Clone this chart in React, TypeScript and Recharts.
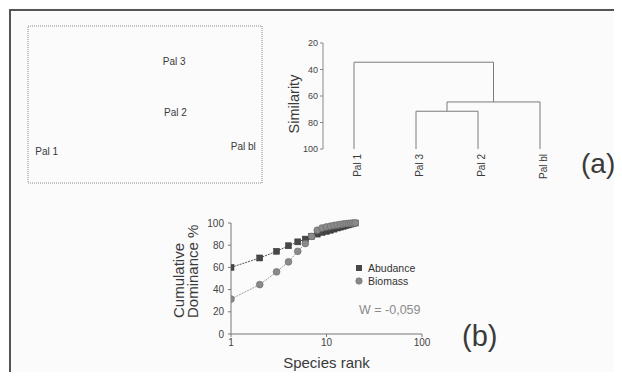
import React from "react";
import {
  ScatterChart,
  Scatter,
  LineChart,
  Line,
  XAxis,
  YAxis,
  ReferenceArea,
  Legend,
} from "recharts";

const FONT = '"Liberation Sans", Arial, Helvetica, sans-serif';
const INK = "#3a3a3a";

// (a) left: MDS ordination
const mdsSites = ["Pal 1", "Pal 3", "Pal 2", "Pal bl"];
const mdsX = [-0.84, 0.25, 0.26, 0.84];
const mdsY = [-0.6, 0.55, -0.1, -0.54];

// (a) right: dendrogram (nodes 0-3 are leaves, 4+ are the clusters made by each merge)
const leaves = ["Pal 1", "Pal 3", "Pal 2", "Pal bl"];
const merges: [number, number, number][] = [
  [1, 2, 71.5],
  [4, 3, 64.5],
  [0, 5, 34.5],
];
const simTicks = [20, 40, 60, 80, 100];

// (b) k-dominance curves
const ranks = [1, 2, 3, 4, 5, 6, 7, 8, 9, 10, 11, 12, 13, 14, 15, 16, 17, 18, 19, 20];
const abundance = [60, 68.5, 74.5, 79.5, 83, 85.5, 88, 90, 91.5, 92.5, 93.5, 94.5, 95.5, 96.3, 97, 97.7, 98.3, 99, 99.5, 100];
const biomass = [31.5, 44.5, 56, 65, 74.5, 81.5, 88, 93.5, 95.5, 96.5, 97.2, 97.8, 98.3, 98.7, 99.1, 99.4, 99.6, 99.8, 99.9, 100];
const rankTicks = [1, 10, 100];
const domTicks = [0, 20, 40, 60, 80, 100];

const mdsData = mdsSites.map((name, i) => ({ name, x: mdsX[i], y: mdsY[i] }));
const leafData = leaves.map((name, i) => ({ i, h: 100 }));
const domData = ranks.map((rank, i) => ({ rank, abundance: abundance[i], biomass: biomass[i] }));

// each merge becomes one bracket: down-left, across, down-right
function dendroBrackets() {
  const nodes = leaves.map((_, i) => ({ x: i, h: 100 }));
  return merges.map(([a, b, sim]) => {
    const na = nodes[a];
    const nb = nodes[b];
    nodes.push({ x: (na.x + nb.x) / 2, h: sim });
    return [
      { i: na.x, h: na.h },
      { i: na.x, h: sim },
      { i: nb.x, h: sim },
      { i: nb.x, h: nb.h },
    ];
  });
}

const SiteLabel = (props: any) => (
  <text x={props.cx} y={props.cy} textAnchor="middle" dominantBaseline="central" fontSize={10} fill={INK} fontFamily={FONT}>
    {props.payload.name}
  </text>
);

const LeafTick = (props: any) => (
  <text
    x={props.x + 3}
    y={props.y - 3}
    transform={`rotate(-90, ${props.x + 3}, ${props.y - 3})`}
    textAnchor="end"
    dominantBaseline="central"
    fontSize={10}
    fill={INK}
    fontFamily={FONT}
  >
    {leaves[props.payload.value]}
  </text>
);

const SquareDot = (props: any) => (
  <rect key={`a${props.index}`} x={props.cx - 3} y={props.cy - 3} width={6} height={6} fill="#474747" stroke="#333" strokeWidth={0.5} />
);

const CircleDot = (props: any) => (
  <circle key={`b${props.index}`} cx={props.cx} cy={props.cy} r={3.4} fill="#8a8a8a" stroke="#666" strokeWidth={0.6} />
);

const DomLegend = (props: any) => (
  <div style={{ fontFamily: FONT, fontSize: 10.5, color: "#333", lineHeight: "13px" }}>
    {(props.payload || []).map((p: any) => (
      <div key={p.value} style={{ display: "flex", alignItems: "center" }}>
        <svg width={9} height={9} style={{ marginRight: 4 }}>
          {p.value === "Abudance" ? (
            <rect x={1} y={1} width={6} height={6} fill="#474747" />
          ) : (
            <circle cx={4} cy={4} r={3.2} fill="#8a8a8a" stroke="#666" strokeWidth={0.6} />
          )}
        </svg>
        {p.value}
      </div>
    ))}
  </div>
);

const tickStyle = { fontSize: 10, fill: "#444", fontFamily: FONT };

export default function App() {
  const brackets = dendroBrackets();
  return (
    <div
      style={{
        position: "relative",
        width: 622,
        height: 380,
        margin: -8,
        background: "#fbfbfb",
        overflow: "hidden",
        fontFamily: FONT,
      }}
    >
      <div
        style={{
          position: "absolute",
          left: 9,
          top: 9,
          width: 640,
          height: 400,
          borderTop: "2px solid #555",
          borderLeft: "2px solid #555",
        }}
      />

      {/* (a) MDS */}
      <div style={{ position: "absolute", left: 27, top: 25 }}>
        <ScatterChart width={236} height={159} margin={{ top: 1, right: 1, bottom: 1, left: 1 }}>
          <XAxis type="number" dataKey="x" domain={[-1, 1]} hide />
          <YAxis type="number" dataKey="y" domain={[-1, 1]} hide />
          <ReferenceArea x1={-1} x2={1} y1={-1} y2={1} fill="none" stroke="#8a8a8a" strokeDasharray="1 1" />
          <Scatter data={mdsData} shape={SiteLabel} isAnimationActive={false} />
        </ScatterChart>
      </div>

      {/* (a) dendrogram */}
      <div style={{ position: "absolute", left: 260, top: 33 }}>
        <LineChart width={311} height={156} data={leafData} margin={{ top: 10, right: 0, bottom: 0, left: 0 }}>
          <XAxis
            type="number"
            dataKey="i"
            domain={[-0.5, 3.5]}
            ticks={[0, 1, 2, 3]}
            axisLine={false}
            tickLine={false}
            height={40}
            tick={LeafTick}
            allowDuplicatedCategory
          />
          <YAxis
            type="number"
            dataKey="h"
            domain={[20, 100]}
            reversed
            ticks={simTicks}
            width={63}
            tickSize={3}
            tickMargin={2}
            axisLine={{ stroke: "#888", strokeWidth: 1 }}
            tickLine={{ stroke: "#888" }}
            tick={{ ...tickStyle, fontSize: 9 }}
            label={{ value: "Similarity", angle: -90, position: "center", dx: 2, dy: 8, fontSize: 14.5, fill: INK, fontFamily: FONT }}
          />
          {brackets.map((b, k) => (
            <Line
              key={k}
              data={b}
              dataKey="h"
              type="linear"
              stroke="#7a7a7a"
              strokeWidth={1}
              dot={false}
              activeDot={false}
              isAnimationActive={false}
            />
          ))}
        </LineChart>
      </div>

      {/* (b) k-dominance */}
      <div style={{ position: "absolute", left: 160, top: 213 }}>
        <LineChart width={272} height={166} data={domData} margin={{ top: 10, right: 10, bottom: 0, left: 0 }}>
          <XAxis
            type="number"
            dataKey="rank"
            scale="log"
            domain={[1, 100]}
            ticks={rankTicks}
            allowDataOverflow
            height={45}
            tickSize={3}
            tickMargin={2}
            stroke="#777"
            tick={tickStyle}
            label={{ value: "Species rank", position: "insideBottom", offset: 11, fontSize: 15, fill: INK, fontFamily: FONT }}
          />
          <YAxis
            type="number"
            domain={[0, 100]}
            ticks={domTicks}
            width={71}
            tickSize={3}
            tickMargin={4}
            stroke="#777"
            tick={tickStyle}
          />
          <Legend
            verticalAlign="middle"
            align="center"
            layout="vertical"
            content={DomLegend}
            wrapperStyle={{ position: "absolute", left: 195, top: 49, width: 80, height: 30 }}
          />
          <Line
            dataKey="abundance"
            name="Abudance"
            stroke="#555"
            strokeWidth={1}
            strokeDasharray="2 1"
            dot={SquareDot}
            isAnimationActive={false}
          />
          <Line
            dataKey="biomass"
            name="Biomass"
            stroke="#999"
            strokeWidth={1}
            strokeDasharray="2 1"
            dot={CircleDot}
            isAnimationActive={false}
          />
          <text x={199} y={97} textAnchor="start" dominantBaseline="central" fontSize={12.5} fill="#8a8a8a" fontFamily={FONT}>
            W = -0,059
          </text>
          <text transform="translate(24, 105) rotate(-90)" textAnchor="start" fontSize={15} fill={INK} fontFamily={FONT}>
            <tspan x={0} y={0}>Cumulative</tspan>
            <tspan x={0} y={14}>Dominance %</tspan>
          </text>
        </LineChart>
      </div>

      <div style={{ position: "absolute", left: 581, top: 148, fontSize: 28, color: INK, lineHeight: "32px" }}>(a)</div>
      <div style={{ position: "absolute", left: 462, top: 320, fontSize: 29, color: INK, lineHeight: "33px" }}>(b)</div>
    </div>
  );
}
